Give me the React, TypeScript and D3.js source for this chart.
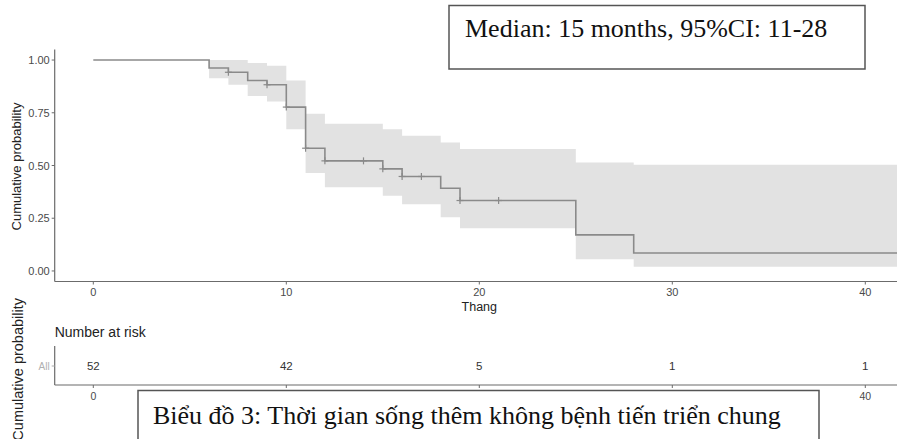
import * as d3 from 'd3';

// Kaplan-Meier steps
const stepTimes = [0, 6, 7, 8, 9, 10, 11, 12, 15, 16, 18, 19, 25, 28];
const survival = [1.0, 0.962, 0.942, 0.903, 0.883, 0.777, 0.582, 0.522, 0.484, 0.448, 0.392, 0.334, 0.171, 0.085];
const upperCI = [1.0, 1.0, 1.0, 0.986, 0.973, 0.903, 0.745, 0.698, 0.672, 0.641, 0.609, 0.578, 0.514, 0.503];
const lowerCI = [1.0, 0.914, 0.883, 0.83, 0.804, 0.672, 0.464, 0.397, 0.357, 0.316, 0.255, 0.203, 0.055, 0.02];
const censorTimes = [7, 9, 10, 11, 12, 14, 15, 16, 17, 19, 21];
const endTime = 42;

const xTicks = [0, 10, 20, 30, 40];
const yTicks = [0, 0.25, 0.5, 0.75, 1];
const riskTimes = [0, 10, 20, 30, 40];
const riskCounts = [52, 42, 5, 1, 1];

const medianText = 'Median: 15 months, 95%CI: 11-28';
const captionText = 'Biểu đồ 3: Thời gian sống thêm không bệnh tiến triển chung';

const W = 897;
const H = 439;
const sans = '"Liberation Sans", Arial, sans-serif';
const serif = '"Liberation Serif", "Times New Roman", serif';
const axisCol = '#6b6b6b';
const tickCol = '#4a4a4a';
const lineCol = '#8a8a8a';

const App = () => {
  const x = d3.scaleLinear().domain([-2, 42]).range([54.7, 903.9]);
  const y = d3.scaleLinear().domain([-0.05, 1.05]).range([281.5, 49.5]);

  const pts = stepTimes.map((t, i) => ({ t, s: survival[i], lo: lowerCI[i], hi: upperCI[i] }));
  pts.push({ ...pts[pts.length - 1], t: endTime });

  const band = d3
    .area<{ t: number; lo: number; hi: number }>()
    .x((d) => x(d.t))
    .y0((d) => y(d.lo))
    .y1((d) => y(d.hi))
    .curve(d3.curveStepAfter);

  const line = d3
    .line<{ t: number; s: number }>()
    .x((d) => x(d.t))
    .y((d) => y(d.s))
    .curve(d3.curveStepAfter);

  const survAt = (t: number) => {
    const i = d3.bisectRight(stepTimes, t) - 1;
    return survival[Math.max(0, i)];
  };

  const yTop = 49.5;
  const yAxisY = 281.5;
  const xLeft = 54.7;

  // risk table
  const rTop = 346;
  const rBottom = 385;
  const rMid = 366;

  return (
    <svg width={W} height={H} style={{ position: 'absolute', left: 0, top: 0, background: '#fff' }}>
      {/* confidence band and curve */}
      <path d={band(pts) || ''} fill="#e2e2e2" />
      <path d={line(pts) || ''} fill="none" stroke={lineCol} strokeWidth={1.6} />
      {censorTimes.map((t) => (
        <g key={t} stroke={lineCol} strokeWidth={1.2}>
          <line x1={x(t) - 3.5} x2={x(t) + 3.5} y1={y(survAt(t))} y2={y(survAt(t))} />
          <line x1={x(t)} x2={x(t)} y1={y(survAt(t)) - 3.5} y2={y(survAt(t)) + 3.5} />
        </g>
      ))}

      {/* axes */}
      <line x1={xLeft} x2={xLeft} y1={yTop} y2={yAxisY} stroke={axisCol} strokeWidth={1.2} />
      <line x1={xLeft} x2={W} y1={yAxisY} y2={yAxisY} stroke={axisCol} strokeWidth={1.2} />
      {yTicks.map((v) => (
        <g key={v}>
          <line x1={xLeft - 3} x2={xLeft} y1={y(v)} y2={y(v)} stroke={axisCol} />
          <text x={xLeft - 5} y={y(v) + 4} textAnchor="end" fontSize={11} fontFamily={sans} fill={tickCol}>
            {d3.format('.2f')(v)}
          </text>
        </g>
      ))}
      {xTicks.map((v) => (
        <g key={v}>
          <line x1={x(v)} x2={x(v)} y1={yAxisY} y2={yAxisY + 3} stroke={axisCol} />
          <text x={x(v)} y={296} textAnchor="middle" fontSize={11} fontFamily={sans} fill={tickCol}>
            {v}
          </text>
        </g>
      ))}
      <text x={x(20)} y={311} textAnchor="middle" fontSize={12.5} fontFamily={sans} fill="#222">
        Thang
      </text>
      <text
        transform={`translate(21,${(yTop + yAxisY) / 2 + 1}) rotate(-90)`}
        textAnchor="middle"
        fontSize={13}
        fontFamily={sans}
        fill="#222"
      >
        Cumulative probability
      </text>

      {/* number at risk table */}
      <text x={xLeft} y={337} fontSize={14} fontFamily={sans} fill="#222">
        Number at risk
      </text>
      <line x1={xLeft} x2={xLeft} y1={rTop} y2={rBottom} stroke={axisCol} strokeWidth={1.2} />
      <line x1={xLeft} x2={W} y1={rBottom} y2={rBottom} stroke={axisCol} strokeWidth={1.2} />
      <line x1={xLeft - 3} x2={xLeft} y1={rMid} y2={rMid} stroke="#aaa" />
      <text x={xLeft - 5} y={rMid + 3.5} textAnchor="end" fontSize={10} fontFamily={sans} fill="#b0b0b0">
        All
      </text>
      {riskTimes.map((t, i) => (
        <text key={t} x={x(t)} y={rMid + 4} textAnchor="middle" fontSize={11.5} fontFamily={sans} fill="#333">
          {riskCounts[i]}
        </text>
      ))}
      {xTicks.map((v) => (
        <g key={v}>
          <line x1={x(v)} x2={x(v)} y1={rBottom} y2={rBottom + 3} stroke={axisCol} />
          <text x={x(v)} y={400} textAnchor="middle" fontSize={10.5} fontFamily={sans} fill={tickCol}>
            {v}
          </text>
        </g>
      ))}
      <text
        transform={`translate(23,298) rotate(-90)`}
        textAnchor="end"
        fontSize={14.5}
        fontFamily={sans}
        fill="#222"
      >
        Cumulative probability
      </text>

      {/* median annotation */}
      <rect x={449} y={5.5} width={416} height={63.5} fill="#fff" stroke="#555" strokeWidth={1.5} />
      <text x={465} y={37} fontSize={26} fontFamily={serif} fill="#111">
        {medianText}
      </text>

      {/* caption */}
      <rect x={138} y={390.5} width={681} height={70} fill="#fff" stroke="#555" strokeWidth={1.5} />
      <text x={153} y={424} fontSize={26} fontFamily={serif} fill="#111">
        {captionText}
      </text>
    </svg>
  );
};

export default App;
